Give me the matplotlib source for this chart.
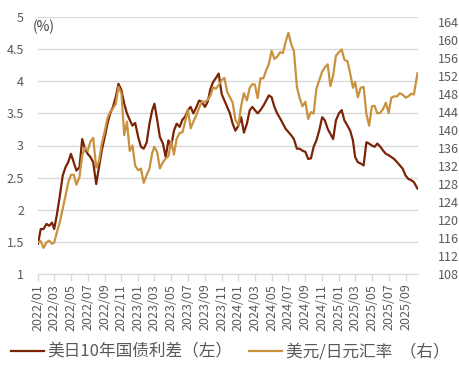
import pandas as pd
import matplotlib
matplotlib.use("Agg")
import matplotlib.pyplot as plt
import matplotlib.dates as mdates
from matplotlib.ticker import FormatStrFormatter

plt.rcParams['font.family'] = ['Noto Sans CJK SC', 'DejaVu Sans']

# sample days in each month (1st, 11th, 21st)
years = [2022, 2023, 2024, 2025]
days = [1, 11, 21]
last_days = ['2025-10-01', '2025-10-14']

# US-Japan 10y yield spread (%), left axis
spread_2022 = [1.47, 1.70, 1.70, 1.78, 1.75, 1.80, 1.70, 1.93, 2.20,
               2.53, 2.66, 2.74, 2.87, 2.74, 2.61, 2.66, 3.10, 2.95,
               2.87, 2.82, 2.74, 2.40, 2.66, 2.92, 3.13, 3.34, 3.50,
               3.60, 3.75, 3.96, 3.86, 3.65, 3.50, 3.40, 3.31, 3.35]
spread_2023 = [3.13, 2.98, 2.95, 3.05, 3.34, 3.55, 3.65, 3.40, 3.13,
               3.03, 2.82, 3.08, 2.98, 3.23, 3.34, 3.29, 3.40, 3.45,
               3.55, 3.60, 3.50, 3.60, 3.70, 3.68, 3.60, 3.68, 3.88,
               3.99, 4.05, 4.12, 3.80, 3.70, 3.60, 3.50, 3.34, 3.23]
spread_2024 = [3.31, 3.44, 3.20, 3.34, 3.55, 3.60, 3.55, 3.50, 3.55,
               3.62, 3.70, 3.78, 3.75, 3.60, 3.50, 3.42, 3.34, 3.26,
               3.21, 3.16, 3.10, 2.95, 2.95, 2.92, 2.90, 2.79, 2.80,
               2.98, 3.08, 3.23, 3.44, 3.39, 3.26, 3.18, 3.10, 3.39]
spread_2025 = [3.50, 3.55, 3.39, 3.31, 3.23, 3.08, 2.82, 2.74, 2.72,
               2.69, 3.05, 3.03, 3.00, 2.98, 3.03, 2.98, 2.92, 2.87,
               2.85, 2.82, 2.79, 2.74, 2.69, 2.64, 2.53, 2.48, 2.46,
               2.43, 2.33]

# USD/JPY, right axis
usdjpy_2022 = [115.0, 115.3, 113.8, 115.0, 115.4, 114.7, 115.0, 117.3, 119.4,
               122.5, 125.3, 128.3, 130.0, 130.0, 127.8, 129.5, 134.3, 136.0,
               135.3, 137.4, 138.2, 131.6, 133.0, 136.8, 139.6, 142.6, 144.0,
               144.7, 145.7, 149.5, 148.0, 138.8, 141.8, 135.3, 136.5, 132.0]
usdjpy_2023 = [131.0, 131.4, 128.2, 130.0, 131.4, 134.9, 136.2, 135.0, 131.4,
               132.8, 133.6, 134.1, 137.5, 134.5, 138.0, 139.3, 139.4, 141.8,
               144.4, 140.3, 141.8, 143.3, 144.9, 146.2, 146.2, 146.6, 147.6,
               149.4, 149.1, 149.9, 151.0, 151.5, 148.4, 147.2, 146.0, 142.2]
usdjpy_2024 = [141.0, 145.3, 148.1, 146.5, 149.3, 150.1, 150.0, 147.0, 151.4,
               151.4, 153.2, 154.6, 157.5, 155.7, 156.2, 157.2, 157.0, 159.5,
               161.5, 159.0, 157.5, 149.5, 147.0, 145.2, 146.2, 142.4, 143.9,
               143.6, 149.1, 150.9, 152.9, 153.8, 154.5, 149.7, 152.0, 156.4]
usdjpy_2025 = [157.2, 157.8, 155.5, 155.2, 152.5, 149.3, 150.6, 147.2, 149.3,
               149.5, 143.5, 140.9, 145.2, 145.3, 143.6, 143.8, 144.6, 146.0,
               143.7, 147.1, 147.4, 147.4, 148.1, 147.8, 147.1, 147.4, 148.0,
               147.8, 152.5]

spread_label = '美日10年国债利差（左）'
usdjpy_label = '美元/日元汇率  （右）'

BROWN = '#7B2305'
GOLD = '#C8923F'
GRID = '#D9D9D9'
TEXT = '#595959'


def build_dates():
    dates = []
    for y in years:
        for m in range(1, 13):
            if y == 2025 and m > 9:
                break
            for d in days:
                dates.append(pd.Timestamp(y, m, d))
    dates += [pd.Timestamp(s) for s in last_days]
    return dates


def make_chart(output_image):
    dates = build_dates()
    spread = spread_2022 + spread_2023 + spread_2024 + spread_2025
    usdjpy = usdjpy_2022 + usdjpy_2023 + usdjpy_2024 + usdjpy_2025

    fig = plt.figure(figsize=(4.6, 3.68), dpi=100)
    ax = fig.add_axes([38 / 460, 1 - 274 / 368, 380 / 460, 257 / 368])
    ax2 = ax.twinx()

    l1, = ax.plot(dates, spread, color=BROWN, lw=1.6, label=spread_label)
    l2, = ax2.plot(dates, usdjpy, color=GOLD, lw=1.6, label=usdjpy_label)

    ax.set_xlim(pd.Timestamp('2022-01-01'), pd.Timestamp('2025-10-16'))
    ax.set_ylim(1, 5)
    ax.set_yticks([1 + 0.5 * i for i in range(9)])
    ax.yaxis.set_major_formatter(FormatStrFormatter('%g'))
    ax.grid(axis='y', color=GRID, lw=1)
    ax.set_axisbelow(True)

    ax2.set_ylim(108, 165)
    ax2.set_yticks(range(108, 165, 4))

    ax.xaxis.set_major_locator(mdates.MonthLocator(bymonth=[1, 3, 5, 7, 9, 11]))
    ax.xaxis.set_major_formatter(mdates.DateFormatter('%Y/%m'))
    ax.tick_params(axis='x', rotation=90, labelsize=9, labelcolor=TEXT,
                   color=GRID, length=5, width=1, pad=2)
    ax.tick_params(axis='y', length=0, labelsize=9, labelcolor=TEXT, pad=10)
    ax2.tick_params(axis='y', length=0, labelsize=9, labelcolor=TEXT, pad=14)

    for a in (ax, ax2):
        for side in ('top', 'left', 'right', 'bottom'):
            a.spines[side].set_visible(False)
    ax.spines['bottom'].set_visible(True)
    ax.spines['bottom'].set_color(GRID)

    fig.text(33 / 460, 1 - 27 / 368, '(%)', fontsize=10, color='#404040',
             va='center', ha='left')

    fig.legend(handles=[l1, l2], loc='center', bbox_to_anchor=(0.5, 1 - 352 / 368),
               ncol=2, frameon=False, fontsize=12, labelcolor=TEXT,
               handlelength=2.0, handletextpad=0.2, columnspacing=1.0)

    fig.savefig(output_image, dpi=100)
    plt.close(fig)


def main():
    make_chart('out.png')


if __name__ == "__main__":
    main()
